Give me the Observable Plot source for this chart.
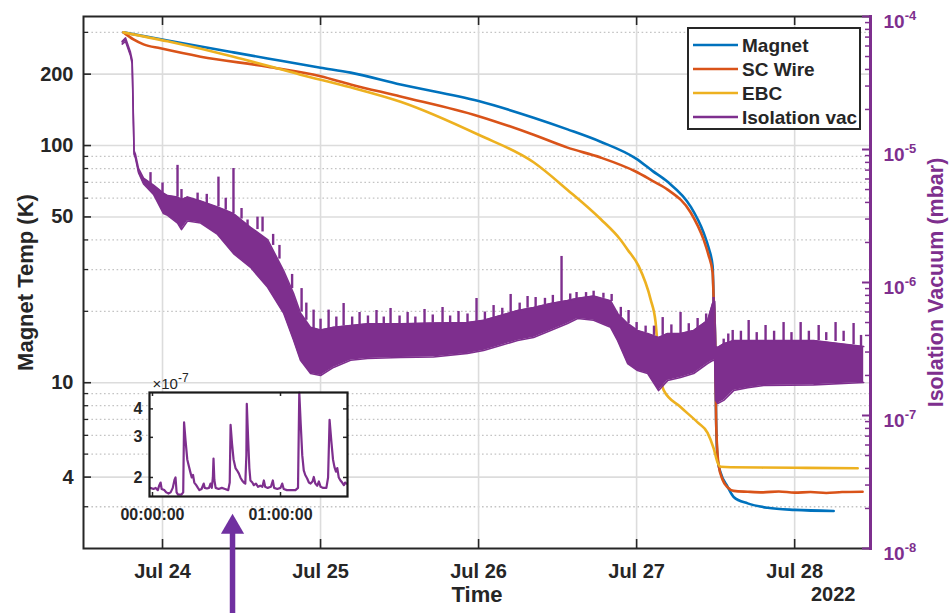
<!DOCTYPE html>
<html><head><meta charset="utf-8">
<script src="https://cdn.jsdelivr.net/npm/d3@7"></script>
<script src="https://cdn.jsdelivr.net/npm/@observablehq/plot@0.6"></script>
<style>
body{margin:0;background:#fff;}
#wrap{position:relative;width:950px;height:613px;overflow:hidden;font-family:"Liberation Sans",Arial,sans-serif;}
#wrap > svg, #wrap > div{position:absolute;}
</style></head><body><div id="wrap"></div>
<script>
// ---------- series metadata ----------
const seriesNames = ["Magnet", "SC Wire", "EBC", "Isolation vac"];
const seriesColors = ["#0072BD", "#D95319", "#EDB120", "#7E2F8E"];
const yLabel = "Magnet Temp (K)";
const y2Label = "Isolation Vacuum (mbar)";
const xLabel = "Time";
const yearLabel = "2022";

// ---------- axis ticks ----------
const xTickDays = [24, 25, 26, 27, 28];
const xTickLabels = ["Jul 24", "Jul 25", "Jul 26", "Jul 27", "Jul 28"];
const tempMajor = [4, 10, 50, 100, 200];
const tempMinor = [3, 5, 6, 7, 8, 9, 20, 30, 40, 60, 70, 80, 90, 300];
const vacMajor = [1e-8, 1e-7, 1e-6, 1e-5, 1e-4];
const vacMinor = [2e-8,3e-8,4e-8,5e-8,6e-8,7e-8,8e-8,9e-8,2e-7,3e-7,4e-7,5e-7,6e-7,7e-7,8e-7,9e-7,2e-6,3e-6,4e-6,5e-6,6e-6,7e-6,8e-6,9e-6,2e-5,3e-5,4e-5,5e-5,6e-5,7e-5,8e-5,9e-5];

// ---------- temperatures (day of July 2022, K) ----------
const magnetDay = [23.753, 24.032, 24.449, 24.665, 25.000, 25.190, 25.506, 26.000, 26.348, 26.563, 26.772, 26.994, 27.100, 27.196, 27.342, 27.424, 27.455, 27.481, 27.487, 27.497, 27.503, 27.513, 27.532, 27.576, 27.614, 27.703, 27.829, 28.000, 28.247];
const magnetK   = [300, 277, 247, 233, 213, 203, 181, 154, 131, 117, 103.8, 88.3, 78.2, 70.3, 55.3, 42.9, 37.2, 31, 23.1, 15, 7, 4.73, 4.17, 3.64, 3.30, 3.10, 2.97, 2.91, 2.88];

const wireDay = [23.753, 23.816, 23.880, 23.987, 24.241, 24.665, 25.000, 25.190, 25.506, 26.000, 26.348, 26.563, 26.772, 26.994, 27.100, 27.196, 27.342, 27.424, 27.455, 27.481, 27.487, 27.497, 27.503, 27.513, 27.519, 27.544, 27.576, 27.614, 27.703, 27.80, 27.90, 28.00, 28.10, 28.20, 28.30, 28.43];
const wireK   = [300, 280, 267, 257, 237, 215, 196, 181, 161, 133, 111, 98, 89, 77.7, 71, 65.2, 52.2, 40.1, 34.5, 29.1, 23.1, 15, 7, 4.9, 4.5, 3.9, 3.62, 3.5, 3.47, 3.45, 3.48, 3.44, 3.46, 3.43, 3.46, 3.47];

const ebcDay = [23.753, 24.032, 24.449, 24.873, 25.190, 25.506, 26.000, 26.348, 26.563, 26.772, 26.899, 26.943, 27.013, 27.089, 27.120, 27.140, 27.171, 27.278, 27.386, 27.449, 27.487, 27.513, 27.532, 27.595, 28.000, 28.399];
const ebcK   = [300, 275, 237, 199, 176, 153, 111, 85, 65, 49, 40, 36.4, 31, 22.4, 18, 12.5, 9.3, 7.9, 6.8, 6.15, 5.3, 4.6, 4.42, 4.4, 4.38, 4.36];

// ---------- isolation vacuum (mbar): envelope of the noisy trace ----------
const vacDay  = [23.745, 23.766, 23.797, 23.808, 23.813, 23.820, 23.829, 23.848, 23.880, 23.943, 24.006, 24.032, 24.095, 24.120, 24.158, 24.241, 24.348, 24.449, 24.557, 24.665, 24.766, 24.829, 24.873, 24.937, 25.000, 25.082, 25.190, 25.297, 25.506, 25.715, 25.930, 26.032, 26.139, 26.247, 26.348, 26.456, 26.563, 26.627, 26.728, 26.835, 26.880, 26.943, 27.006, 27.070, 27.139, 27.196, 27.278, 27.361, 27.449, 27.481, 27.494, 27.500, 27.513, 27.551, 27.614, 27.703, 27.804, 28.120, 28.437];
const vacLow  = [6.2e-5, 6.5e-5, 5.1e-5, 4.4e-5, 2.3e-5, 9.2e-6, 8.6e-6, 6.7e-6, 5.5e-6, 4.6e-6, 3.3e-6, 3.2e-6, 2.8e-6, 2.5e-6, 2.9e-6, 2.8e-6, 2.3e-6, 1.65e-6, 1.3e-6, 9.2e-7, 5.9e-7, 3.7e-7, 2.6e-7, 2.07e-7, 2.0e-7, 2.3e-7, 2.6e-7, 2.68e-7, 2.73e-7, 2.75e-7, 2.93e-7, 3.08e-7, 3.36e-7, 3.66e-7, 3.86e-7, 4.36e-7, 4.92e-7, 5.36e-7, 5.2e-7, 4.6e-7, 3.66e-7, 2.46e-7, 2.18e-7, 2.07e-7, 1.54e-7, 1.83e-7, 1.93e-7, 2.07e-7, 2.46e-7, 2.59e-7, 2.6e-7, 1.3e-7, 1.23e-7, 1.3e-7, 1.54e-7, 1.62e-7, 1.68e-7, 1.70e-7, 1.77e-7];
const vacHigh = [6.5e-5, 6.9e-5, 5.4e-5, 4.7e-5, 2.5e-5, 9.8e-6, 9.2e-6, 7.2e-6, 6.1e-6, 5.4e-6, 4.7e-6, 4.5e-6, 4.4e-6, 4.2e-6, 4.4e-6, 4.1e-6, 3.7e-6, 3.3e-6, 2.6e-6, 2.1e-6, 1.23e-6, 8.3e-7, 5.9e-7, 4.6e-7, 4.4e-7, 4.6e-7, 4.75e-7, 4.9e-7, 4.9e-7, 4.95e-7, 5.0e-7, 5.2e-7, 5.65e-7, 6.16e-7, 6.49e-7, 6.95e-7, 7.32e-7, 7.6e-7, 7.9e-7, 7.3e-7, 5.85e-7, 4.92e-7, 4.36e-7, 4.14e-7, 3.86e-7, 4.14e-7, 4.14e-7, 4.36e-7, 5.18e-7, 7.0e-7, 7.2e-7, 3.3e-7, 3.25e-7, 3.46e-7, 3.66e-7, 3.66e-7, 3.66e-7, 3.66e-7, 3.3e-7];

// pressure spikes (day, base, peak)
const spikeDay  = [23.924, 24.000, 24.095, 24.222, 24.354, 24.449, 24.538, 24.601, 24.633, 24.880, 24.956, 25.051, 25.146, 25.247, 25.354, 25.443, 25.551, 25.658, 25.772, 25.873, 25.987, 26.095, 26.203, 26.310, 26.361, 26.525, 26.620, 26.728, 26.842, 26.949, 27.057, 27.165, 27.278, 27.386, 27.487, 27.551, 27.608, 27.709, 27.816, 27.930, 28.038, 28.152, 28.259, 28.373,
                   25.20, 25.30, 25.40, 25.50, 25.60, 25.71, 25.82, 25.93, 26.04, 26.15, 26.26, 26.42, 26.47, 26.58, 26.68, 26.79, 26.90, 27.00, 27.11, 27.22, 27.33, 27.44, 27.58, 27.66, 27.76, 27.87, 27.98, 28.09, 28.20, 28.31, 28.42,
                   24.12, 24.28, 24.40, 24.50, 24.70, 24.74, 24.82, 24.91, 25.00, 25.10];
const spikeBase = [5.4e-6, 4.7e-6, 4.4e-6, 4.1e-6, 3.7e-6, 3.3e-6, 2.6e-6, 2.5e-6, 2.4e-6, 6.0e-7, 4.5e-7, 4.5e-7, 4.7e-7, 4.8e-7, 4.9e-7, 4.9e-7, 4.9e-7, 4.9e-7, 4.95e-7, 5.0e-7, 5.1e-7, 5.4e-7, 5.9e-7, 6.4e-7, 6.5e-7, 7.2e-7, 7.5e-7, 7.8e-7, 7.2e-7, 4.9e-7, 4.2e-7, 4.0e-7, 4.1e-7, 4.4e-7, 7.0e-7, 3.4e-7, 3.6e-7, 3.66e-7, 3.66e-7, 3.66e-7, 3.66e-7, 3.66e-7, 3.6e-7, 3.4e-7,
                   4.75e-7, 4.9e-7, 4.9e-7, 4.9e-7, 4.9e-7, 4.95e-7, 5.0e-7, 5.0e-7, 5.2e-7, 5.65e-7, 6.1e-7, 6.8e-7, 6.9e-7, 7.3e-7, 7.6e-7, 7.6e-7, 5.5e-7, 4.4e-7, 4.0e-7, 4.1e-7, 4.2e-7, 5.0e-7, 3.5e-7, 3.66e-7, 3.66e-7, 3.66e-7, 3.66e-7, 3.66e-7, 3.66e-7, 3.6e-7, 3.3e-7,
                   4.2e-6, 3.9e-6, 3.5e-6, 3.0e-6, 1.9e-6, 1.5e-6, 9.0e-7, 5.2e-7, 4.4e-7, 4.6e-7];
const spikePeak = [6.7e-6, 5.6e-6, 7.6e-6, 4.7e-6, 6.2e-6, 7.2e-6, 2.95e-6, 3.1e-6, 3.1e-6, 9.0e-7, 6.2e-7, 6.2e-7, 6.95e-7, 5.95e-7, 6.16e-7, 6.38e-7, 5.95e-7, 6.27e-7, 6.49e-7, 6.05e-7, 7.58e-7, 6.71e-7, 8.13e-7, 7.85e-7, 7.71e-7, 1.57e-6, 8.41e-7, 8.6e-7, 8.13e-7, 6.16e-7, 4.7e-7, 5.45e-7, 5.95e-7, 5.36e-7, 7.71e-7, 3.75e-7, 4.36e-7, 5.18e-7, 4.75e-7, 5.0e-7, 5.0e-7, 4.75e-7, 5.0e-7, 4.92e-7,
                   5.5e-7, 5.6e-7, 5.5e-7, 5.6e-7, 5.5e-7, 5.7e-7, 5.6e-7, 5.8e-7, 6.0e-7, 6.4e-7, 7.0e-7, 7.6e-7, 8.0e-7, 8.2e-7, 8.4e-7, 8.3e-7, 6.5e-7, 5.0e-7, 4.7e-7, 4.8e-7, 4.9e-7, 5.8e-7, 4.1e-7, 4.3e-7, 4.2e-7, 4.3e-7, 4.2e-7, 4.3e-7, 4.2e-7, 4.3e-7, 4.0e-7,
                   5.0e-6, 4.6e-6, 4.3e-6, 3.6e-6, 2.3e-6, 1.9e-6, 1.15e-6, 7.0e-7, 5.3e-7, 5.5e-7];

// ---------- inset: zoom on one and a half hours (minutes, x1e-7 mbar) ----------
const insetMin = [-1.0, 0.5, 1.5, 2.5, 3.2, 3.8, 4.3, 5.5, 6.5, 7.5, 8.5, 9.5, 10.3, 10.8, 11.3, 12.0, 13.5, 14.4, 14.8, 15.5, 16.3, 17.0, 17.8, 18.4, 19.0, 19.6, 20.5, 21.3, 22.0, 23.0, 24.0, 24.5, 25.5, 26.5, 27.2, 27.8, 28.3, 28.6, 29.0, 29.6, 31, 32.5, 34, 35.5, 36.2, 36.6, 37.3, 38.0, 38.9, 39.6, 40.5, 41.2, 42.0, 42.8, 43.5, 44.0, 44.2, 44.8, 45.4, 45.9, 46.8, 47.5, 48.5, 49.5, 50.5, 51.5, 52.2, 52.8, 54, 55.5, 56.4, 57, 58.5, 60, 60.8, 61.5, 63, 65, 67, 68.2, 68.8, 69.5, 70.2, 70.9, 71.6, 72.5, 73.3, 74.1, 75, 75.6, 76.3, 77.2, 78, 78.8, 80, 81.5, 82.3, 83.0, 83.8, 84.6, 85.3, 86.0, 86.6, 87.3, 88.1, 88.9, 89.7, 90.3, 90.9];
const insetVal = [1.80, 1.78, 1.80, 1.76, 1.85, 1.90, 1.78, 1.76, 1.72, 1.70, 1.72, 1.80, 1.95, 2.0, 1.72, 1.68, 1.68, 1.72, 3.49, 2.9, 2.4, 2.25, 2.1, 2.0, 2.05, 1.90, 1.85, 1.80, 1.76, 1.78, 1.88, 1.80, 1.79, 1.80, 1.88, 1.80, 2.0, 2.42, 1.95, 1.80, 1.78, 1.80, 1.78, 1.76, 1.9, 3.40, 2.8, 2.4, 2.2, 2.15, 2.08, 2.0, 1.94, 1.90, 1.88, 2.5, 4.21, 3.0, 2.2, 1.94, 1.90, 1.85, 1.88, 1.82, 1.84, 1.82, 1.94, 1.82, 1.80, 1.82, 1.94, 1.80, 1.78, 1.80, 1.88, 1.78, 1.76, 1.76, 1.76, 1.80, 4.72, 3.4, 2.5, 2.15, 2.05, 1.98, 1.90, 1.88, 1.92, 2.01, 1.88, 1.84, 1.92, 1.82, 1.80, 1.80, 2.0, 3.58, 2.9, 2.4, 2.22, 2.12, 2.20, 2.0, 1.94, 1.90, 1.85, 1.90, 1.88];
const insetTicks = [0, 60];
const insetTickLabels = ["00:00:00", "01:00:00"];
const insetYTicks = [2, 3, 4];
const insetScaleLabel = "\u00d710^-7";

// ---------- annotation arrow pointing at the inset (day, mbar) ----------
const arrowDay = [24.443];
const arrowTail = [2.5e-9];
const arrowTip = [1.36e-8];
const arrowHead = [1.45e-8];
const arrowColor = "#7030A0";

// ---------- build ----------
const toDate = d => new Date(Date.UTC(2022, 6, 1) + (d - 1) * 864e5);
const xDomain = [toDate(23.5), toDate(28.48)];
const xTicks = xTickDays.map(toDate);
const W = 950, H = 613, ML = 83, MR = 80, MT = 16, MB = 65;
const PW = W - ML - MR, PH = H - MT - MB;
const font = "Liberation Sans, Arial, Helvetica, sans-serif";
const ink = "#262626";
const purple = seriesColors[3];
const baseStyle = {background: "transparent", fontFamily: font, fontSize: "20px", fontWeight: "bold", color: ink, overflow: "visible"};

const temps = [
  magnetDay.map((d, i) => ({t: toDate(d), v: magnetK[i], s: seriesNames[0]})),
  wireDay.map((d, i) => ({t: toDate(d), v: wireK[i], s: seriesNames[1]})),
  ebcDay.map((d, i) => ({t: toDate(d), v: ebcK[i], s: seriesNames[2]}))
];
const vacBand = vacDay.map((d, i) => ({t: toDate(d), lo: vacLow[i], hi: vacHigh[i]}));
const spikes = spikeDay.map((d, i) => ({t: toDate(d), b: spikeBase[i], p: spikePeak[i]}));
const insetData = insetMin.map((m, i) => ({m, v: insetVal[i]}));
const arrowData = arrowDay.map((d, i) => ({t: toDate(d), a: arrowTail[i], b: arrowTip[i], h: arrowHead[i]}));

const gridCol = "#dcdcdc", minorCol = "#c4c4c4";

const main = Plot.plot({
  width: W, height: H, marginLeft: ML, marginRight: MR, marginTop: MT, marginBottom: MB,
  style: baseStyle,
  x: {type: "utc", domain: xDomain},
  y: {type: "log", domain: [2, 350]},
  marks: [
    Plot.gridY(tempMinor, {stroke: minorCol, strokeOpacity: 1, strokeWidth: 1.3, strokeDasharray: "1.6,2.6"}),
    Plot.gridY(tempMajor, {stroke: gridCol, strokeOpacity: 1, strokeWidth: 1.6}),
    Plot.gridX(xTicks, {stroke: gridCol, strokeOpacity: 1, strokeWidth: 1.6}),
    ...temps.map((ser, k) => Plot.line(ser, {x: "t", y: "v", stroke: seriesColors[k], strokeWidth: 2.6, curve: "monotone-x"})),
    Plot.gridY(tempMajor, {stroke: ink, strokeOpacity: 1, strokeWidth: 1.6, insetRight: PW - 8}),
    Plot.gridY(tempMinor, {stroke: ink, strokeOpacity: 1, strokeWidth: 1.3, insetRight: PW - 5}),
    Plot.gridX(xTicks, {stroke: ink, strokeOpacity: 1, strokeWidth: 1.6, insetBottom: PH - 9}),
    Plot.gridX(xTicks, {stroke: ink, strokeOpacity: 1, strokeWidth: 1.6, insetTop: PH - 9}),
    Plot.frame({stroke: ink, strokeWidth: 2}),
    Plot.axisY({ticks: tempMajor, tickSize: 0, tickPadding: 10, tickFormat: d => String(d), label: null, fontSize: 20}),
    Plot.axisX({ticks: xTicks, tickSize: 0, tickPadding: 15, tickFormat: d => xTickLabels[xTicks.findIndex(t => +t === +d)], label: null, fontSize: 20}),
    Plot.text([yLabel], {text: d => d, frameAnchor: "left", textAnchor: "middle", rotate: -90, dx: -58, fontSize: 22}),
    Plot.text([xLabel], {text: d => d, frameAnchor: "bottom", textAnchor: "middle", dy: 53, fontSize: 22}),
    Plot.text([yearLabel], {text: d => d, frameAnchor: "bottom-right", textAnchor: "end", dx: -15, dy: 52, fontSize: 20})
  ]
});

const overlay = Plot.plot({
  width: W, height: H, marginLeft: ML, marginRight: MR, marginTop: MT, marginBottom: MB,
  style: baseStyle,
  x: {type: "utc", domain: xDomain, axis: null},
  y: {type: "log", domain: [1e-8, 1e-4]},
  marks: [
    Plot.areaY(vacBand, {x: "t", y1: "lo", y2: "hi", fill: purple}),
    Plot.line(vacBand, {x: "t", y: "lo", stroke: purple, strokeWidth: 1.6}),
    Plot.line(vacBand, {x: "t", y: "hi", stroke: purple, strokeWidth: 1.6}),
    Plot.ruleX(spikes, {x: "t", y1: "b", y2: "p", stroke: purple, strokeWidth: 2.4}),
    Plot.gridY(vacMajor, {stroke: purple, strokeOpacity: 1, strokeWidth: 2, insetLeft: PW - 8}),
    Plot.gridY(vacMinor, {stroke: purple, strokeOpacity: 1, strokeWidth: 1.5, insetLeft: PW - 5}),
    Plot.frame({anchor: "right", stroke: purple, strokeWidth: 3}),
    Plot.axisY({anchor: "right", ticks: vacMajor, tickSize: 0, tickPadding: 13, tickFormat: d => "10^" + Math.round(Math.log10(d)), label: null, fill: purple, fontSize: 19, dy: 5}),
    Plot.text([y2Label], {text: d => d, frameAnchor: "right", textAnchor: "middle", rotate: -90, dx: 66, fontSize: 21.5, fill: purple}),
    Plot.ruleX(arrowData, {x: "t", y1: "a", y2: "b", stroke: arrowColor, strokeWidth: 5.5}),
    Plot.dot(arrowData, {x: "t", y: "h", symbol: "triangle", r: 8.6, fill: arrowColor, stroke: "none"})
  ]
});

const IW = 260, IH = 160, IML = 49, IMR = 13, IMT = 22, IMB = 34;
const inset = Plot.plot({
  width: IW, height: IH, marginLeft: IML, marginRight: IMR, marginTop: IMT, marginBottom: IMB,
  style: {...baseStyle, fontSize: "16px"},
  x: {domain: [-1.4, 91.4]},
  y: {type: "log", domain: [1.65, 4.72]},
  marks: [
    Plot.frame({fill: "white", stroke: "none"}),
    Plot.line(insetData, {x: "m", y: "v", stroke: purple, strokeWidth: 2.2}),
    Plot.gridX(insetTicks, {stroke: ink, strokeOpacity: 1, strokeWidth: 1.5, insetBottom: IH - IMT - IMB - 4}),
    Plot.gridX(insetTicks, {stroke: ink, strokeOpacity: 1, strokeWidth: 1.5, insetTop: IH - IMT - IMB - 4}),
    Plot.gridY(insetYTicks, {stroke: ink, strokeOpacity: 1, strokeWidth: 1.5, insetRight: IW - IML - IMR - 4}),
    Plot.gridY(insetYTicks, {stroke: ink, strokeOpacity: 1, strokeWidth: 1.5, insetLeft: IW - IML - IMR - 4}),
    Plot.frame({stroke: "#1a1a1a", strokeWidth: 2.2}),
    Plot.axisY({ticks: insetYTicks, tickSize: 0, tickPadding: 7, tickFormat: d => String(d), label: null, fontSize: 16}),
    Plot.axisX({ticks: insetTicks, tickSize: 0, tickPadding: 12, tickFormat: d => insetTickLabels[insetTicks.indexOf(d)], label: null, fontSize: 16}),
    Plot.text([insetScaleLabel], {text: d => d, frameAnchor: "top-left", textAnchor: "start", lineAnchor: "bottom", dx: 3, dy: -4, fontSize: 15, fontWeight: "normal"})
  ]
});

// superscripts for "10^n" labels
function supify(svg, supSize) {
  svg.querySelectorAll("text").forEach(t => {
    const s = t.textContent;
    const k = s.indexOf("^");
    if (k < 0) return;
    t.textContent = "";
    const a = document.createElementNS("http://www.w3.org/2000/svg", "tspan");
    a.textContent = s.slice(0, k);
    const b = document.createElementNS("http://www.w3.org/2000/svg", "tspan");
    b.textContent = s.slice(k + 1);
    b.setAttribute("font-size", supSize);
    b.setAttribute("dy", "-0.55em");
    t.appendChild(a); t.appendChild(b);
  });
}
supify(overlay, "13px");
supify(inset, "12px");

const wrap = document.getElementById("wrap");
main.style.left = "0px"; main.style.top = "0px";
overlay.style.left = "0px"; overlay.style.top = "0px";
inset.style.left = "100px"; inset.style.top = "370px";
wrap.appendChild(main);
wrap.appendChild(overlay);
wrap.appendChild(inset);

// legend
const ns = "http://www.w3.org/2000/svg";
const leg = document.createElementNS(ns, "svg");
leg.setAttribute("width", 174); leg.setAttribute("height", 103);
leg.style.left = "687px"; leg.style.top = "27px";
const rect = document.createElementNS(ns, "rect");
Object.entries({x: 1, y: 1, width: 172, height: 101, fill: "white", stroke: ink, "stroke-width": 2}).forEach(([k, v]) => rect.setAttribute(k, v));
leg.appendChild(rect);
seriesNames.forEach((name, i) => {
  const cy = 18 + i * 24;
  const ln = document.createElementNS(ns, "line");
  Object.entries({x1: 6, x2: 51, y1: cy, y2: cy, stroke: seriesColors[i], "stroke-width": 2.6}).forEach(([k, v]) => ln.setAttribute(k, v));
  leg.appendChild(ln);
  const tx = document.createElementNS(ns, "text");
  Object.entries({x: 55, y: cy + 6.8, fill: ink, "font-family": font, "font-size": 19, "font-weight": "bold"}).forEach(([k, v]) => tx.setAttribute(k, v));
  tx.textContent = name;
  leg.appendChild(tx);
});
wrap.appendChild(leg);
</script></body></html>
